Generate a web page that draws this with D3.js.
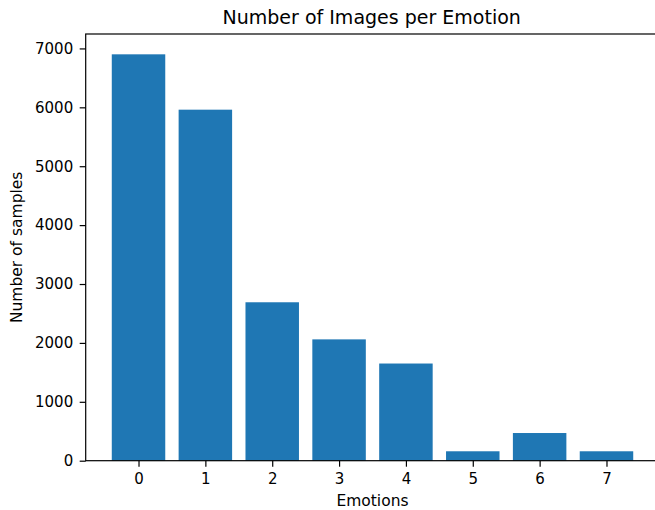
<!DOCTYPE html>
<html>
<head>
<meta charset="utf-8">
<script src="https://cdn.jsdelivr.net/npm/d3@7"></script>
<style>
  html, body { margin: 0; padding: 0; background: #fff; }
  svg { display: block; font-family: "DejaVu Sans", sans-serif; }
</style>
</head>
<body>
<script>
const categories = [0, 1, 2, 3, 4, 5, 6, 7];
const counts = [6900, 5960, 2690, 2060, 1650, 160, 470, 160];
const yTicks = [0, 1000, 2000, 3000, 4000, 5000, 6000, 7000];
const titleText = "Number of Images per Emotion";
const xLabelText = "Emotions";
const yLabelText = "Number of samples";

const W = 655, H = 510;
const mLeft = 85.7, mRight = 659.3, mTop = 34, mBottom = 460.7;

const svg = d3.select("body").append("svg").attr("width", W).attr("height", H);

const x = d3.scaleLinear().domain([-0.79, 7.79]).range([mLeft, mRight]);
const yMax = d3.max(counts) * 1.05;
const y = d3.scaleLinear().domain([0, yMax]).range([mBottom, mTop]);

const bw = 0.8;
svg.append("g").selectAll("rect").data(categories).join("rect")
  .attr("x", (d) => x(d - bw / 2))
  .attr("width", (d) => x(d + bw / 2) - x(d - bw / 2))
  .attr("y", (d, i) => y(counts[i]))
  .attr("height", (d, i) => y(0) - y(counts[i]))
  .attr("fill", "#1f77b4");

const xAxis = d3.axisBottom(x).tickValues(categories).tickFormat(d3.format("d")).tickSizeOuter(0).tickSize(6).tickPadding(6.5);
const gx = svg.append("g").attr("transform", `translate(0,${mBottom})`).call(xAxis);
const yAxis = d3.axisLeft(y).tickValues(yTicks).tickFormat(d3.format("d")).tickSizeOuter(0).tickSize(6).tickPadding(6.5);
const gy = svg.append("g").attr("transform", `translate(${mLeft},0)`).call(yAxis);

[gx, gy].forEach(g => {
  g.selectAll("text").attr("font-size", "15px").attr("fill", "#000").attr("font-family", "DejaVu Sans, sans-serif");
  g.selectAll("line").attr("stroke", "#000").attr("stroke-width", 1.2);
  g.select(".domain").remove();
});

// spines
svg.append("rect").attr("x", mLeft).attr("y", mTop).attr("width", mRight - mLeft).attr("height", mBottom - mTop)
  .attr("fill", "none").attr("stroke", "#000").attr("stroke-width", 1.2);

svg.append("text").attr("x", (mLeft + mRight) / 2 - 0.8).attr("y", 24).attr("text-anchor", "middle")
  .attr("font-size", "19px").attr("fill", "#000").text(titleText);

svg.append("text").attr("x", (mLeft + mRight) / 2).attr("y", 506).attr("text-anchor", "middle")
  .attr("font-size", "15.5px").attr("fill", "#000").text(xLabelText);

svg.append("text").attr("transform", `translate(21.5,${(mTop + mBottom) / 2}) rotate(-90)`).attr("text-anchor", "middle")
  .attr("font-size", "15.5px").attr("fill", "#000").text(yLabelText);
</script>
</body>
</html>
